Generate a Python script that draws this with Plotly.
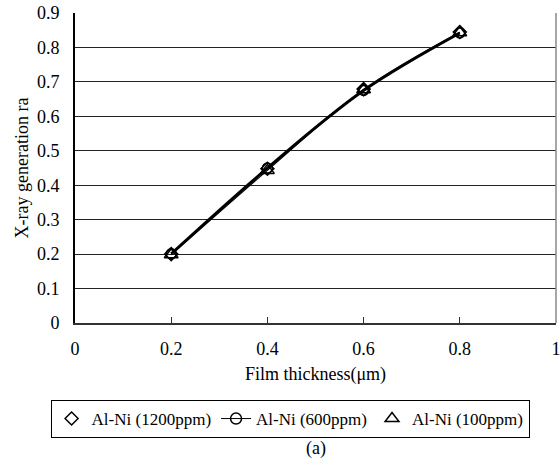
import plotly.graph_objects as go

thickness = [0.2, 0.4, 0.6, 0.8]
ni_1200 = [0.200, 0.448, 0.679, 0.845]
ni_600 = [0.201, 0.450, 0.675, 0.842]
ni_100 = [0.198, 0.443, 0.677, 0.843]

x_ticks = [0, 0.2, 0.4, 0.6, 0.8, 1]
x_tick_text = ["0", "0.2", "0.4", "0.6", "0.8", "1"]
y_ticks = [0, 0.1, 0.2, 0.3, 0.4, 0.5, 0.6, 0.7, 0.8, 0.9]
y_tick_text = ["0", "0.1", "0.2", "0.3", "0.4", "0.5", "0.6", "0.7", "0.8", "0.9"]

FONT = "Liberation Serif"
FS = 18

fig = go.Figure()

fig.add_trace(go.Scatter(x=thickness, y=ni_1200, mode="lines+markers", line=dict(color="#888888", width=1.2, shape="spline"),
                         marker=dict(symbol="diamond-open", size=10, color="black", line=dict(width=1.5)), showlegend=False))
fig.add_trace(go.Scatter(x=thickness, y=ni_600, mode="lines+markers", line=dict(color="black", width=2.8, shape="spline"),
                         marker=dict(symbol="circle-open", size=10, color="black", line=dict(width=1.5)), showlegend=False))
fig.add_trace(go.Scatter(x=thickness, y=ni_100, mode="lines+markers", line=dict(color="black", width=1.2, shape="spline"),
                         marker=dict(symbol="triangle-up-open", size=12, color="black", line=dict(width=1.5)), showlegend=False))

fig.add_trace(go.Scatter(x=[None], y=[None], mode="markers", name="Al-Ni (1200ppm)",
                         marker=dict(symbol="diamond-open", size=10, color="black", line=dict(width=1.5))))
fig.add_trace(go.Scatter(x=[None], y=[None], mode="lines+markers", name="Al-Ni (600ppm)",
                         line=dict(color="black", width=1),
                         marker=dict(symbol="circle-open", size=11, color="black", line=dict(width=1.5))))
fig.add_trace(go.Scatter(x=[None], y=[None], mode="markers", name="Al-Ni (100ppm)",
                         marker=dict(symbol="triangle-up-open", size=12, color="black", line=dict(width=1.5))))

fig.update_layout(
    width=560, height=472,
    margin=dict(l=75, r=4, t=13, b=149),
    paper_bgcolor="white", plot_bgcolor="white",
    font=dict(family=FONT, size=FS, color="black"),
    xaxis=dict(range=[0, 1], tickvals=x_ticks, ticktext=x_tick_text, showgrid=False,
               showline=True, linecolor="#333333", linewidth=2, mirror=False,
               ticks="inside", ticklen=6, tickcolor="#333333", tickwidth=1,
               ticklabelstandoff=8, ticklabeloverflow="allow", automargin=False,
               title=dict(text="Film thickness(μm)", standoff=10, font=dict(size=FS)),
               zeroline=False),
    yaxis=dict(range=[0, 0.9], tickvals=y_ticks, ticktext=y_tick_text, showgrid=True,
               gridcolor="#222222", gridwidth=1,
               showline=True, linecolor="black", linewidth=2,
               ticks="", ticklabelstandoff=10, automargin=False,
               title=dict(text="X-ray generation ra", standoff=4, font=dict(size=FS)),
               zeroline=False),
    legend=dict(orientation="h", xref="container", yref="container",
                x=0.518, xanchor="center", y=1 - 400 / 472, yanchor="top",
                bordercolor="black", borderwidth=1, font=dict(size=17), itemwidth=30,
                tracegroupgap=0),
    shapes=[dict(type="line", xref="paper", yref="paper", x0=1, x1=1, y0=0, y1=1,
                 line=dict(color="#888888", width=1.5))],
    annotations=[dict(text="(a)", xref="paper", yref="paper", x=0.502, y=-0.405, yanchor="middle",
                      showarrow=False, font=dict(size=FS))],
)

fig.write_html("out.html")
